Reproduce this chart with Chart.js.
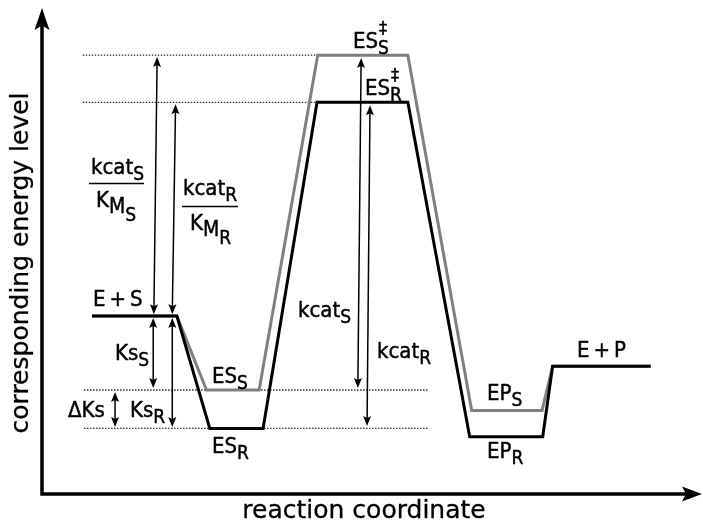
<!DOCTYPE html>
<html><head><meta charset="utf-8">
<script src="https://cdn.jsdelivr.net/npm/chart.js@4.4.1/dist/chart.umd.min.js"></script>
<style>html,body{margin:0;padding:0;background:#fff;}#wrap{width:703px;height:521px;}</style>
</head><body><div id="wrap"><canvas id="c" width="703" height="521"></canvas></div>
<script>
// reaction coordinate (0-100) and energy level (0-100) of each path vertex
const coordS  = [7.6, 20.5, 25.0, 33.0, 41.9, 55.6, 65.3, 76.0, 77.6, 92.5];
const energyS = [36.6, 36.6, 21.4, 21.4, 90.3, 90.3, 17.2, 17.2, 26.3, 26.3];
const coordR  = [7.6, 20.5, 25.5, 33.6, 41.8, 55.6, 65.0, 76.1, 77.6, 92.5];
const energyR = [36.6, 36.6, 13.5, 13.5, 80.6, 80.6, 11.8, 11.8, 26.3, 26.3];
// dotted reference levels
const refLevels = [90.3, 80.6, 21.4, 13.5];
const refStart  = [6.2, 6.2, 6.4, 6.4];
const refEnd    = [41.9, 41.8, 58.7, 58.7];
// double-headed arrows: top x, top energy, bottom x, bottom energy
const arrowTopX = [17.5, 20.3, 16.9, 19.8, 11.1, 48.5, 49.85];
const arrowTopY = [89.9, 80.2, 36.2, 36.2, 21.0, 89.7, 80.0];
const arrowBotX = [17.0, 19.8, 16.9, 19.8, 11.1, 48.0, 49.4];
const arrowBotY = [37.0, 37.0, 21.8, 13.8, 13.8, 21.8, 14.0];

const FONT = '"DejaVu Sans Condensed", "DejaVu Sans", sans-serif';
const TFONT = '"DejaVu Sans", sans-serif';

// text labels: anchor (left, baseline) in data units
const labels = [
  {x: 7.75, y: 38.68, parts: [{t: 'E\u2009+\u2009S'}]},
  {x: 11.09, y: 27.57, parts: [{t: 'Ks'}, {t: 'S', l: 1}]},
  {x: 3.95, y: 15.84, parts: [{t: '\u0394Ks'}]},
  {x: 13.37, y: 15.84, parts: [{t: 'Ks'}, {t: 'R', l: 1}]},
  {x: 25.84, y: 22.84, parts: [{t: 'ES'}, {t: 'S', l: 1}]},
  {x: 25.84, y: 8.44, parts: [{t: 'ES'}, {t: 'R', l: 1}]},
  {x: 47.26, y: 91.77, parts: [{t: 'ES'}, {t: '\u2021', sup: 1}, {t: 'S', l: 1}]},
  {x: 49.09, y: 82.10, parts: [{t: 'ES'}, {t: '\u2021', sup: 1}, {t: 'R', l: 1}]},
  {x: 38.91, y: 36.42, parts: [{t: 'kcat'}, {t: 'S', l: 1}]},
  {x: 50.91, y: 27.98, parts: [{t: 'kcat'}, {t: 'R', l: 1}]},
  {x: 67.63, y: 19.34, parts: [{t: 'EP'}, {t: 'S', l: 1}]},
  {x: 67.63, y: 7.41, parts: [{t: 'EP'}, {t: 'R', l: 1}]},
  {x: 81.31, y: 28.19, parts: [{t: 'E\u2009+\u2009P'}]}
];
const fractions = [
  {nx: 7.45, ny: 65.84, num: [{t: 'kcat'}, {t: 'S', l: 1}], x1: 7.14, x2: 15.5, ly: 63.99,
   dx: 8.21, dy: 59.05, den: [{t: 'K'}, {t: 'M', l: 1, s: 21}, {t: 'S', l: 2, s: 19}]},
  {nx: 21.43, ny: 61.52, num: [{t: 'kcat'}, {t: 'R', l: 1}], x1: 21.28, x2: 29.79, ly: 59.26,
   dx: 22.49, dy: 54.32, den: [{t: 'K'}, {t: 'M', l: 1, s: 21}, {t: 'R', l: 2, s: 19}]}
];

function put(ctx, t, x, y) {
  ctx.strokeText(t, x, y);
  ctx.fillText(t, x, y);
}

function rich(ctx, x, y, parts) {
  let cx = x;
  ctx.lineWidth = 0.45;
  ctx.lineJoin = 'round';
  for (const p of parts) {
    const lv = p.l || 0;
    if (p.sup) {
      ctx.font = '18px ' + FONT;
      put(ctx, p.t, cx + 1, y - 14);
      continue;
    }
    const size = p.s || [22, 19, 17][lv];
    const dy = [0, 6, 14][lv];
    ctx.font = size + 'px ' + FONT;
    put(ctx, p.t, cx, y + dy);
    cx += ctx.measureText(p.t).width;
  }
}

function head(ctx, tx, ty, ang, len, hw) {
  ctx.save();
  ctx.translate(tx, ty);
  ctx.rotate(ang);
  ctx.beginPath();
  ctx.moveTo(0, 0);
  ctx.lineTo(-len, -hw);
  ctx.lineTo(-len * 0.8, 0);
  ctx.lineTo(-len, hw);
  ctx.closePath();
  ctx.fill();
  ctx.restore();
}

const annot = {
  id: 'annot',
  beforeDatasetsDraw(chart) {
    const {ctx, chartArea: a} = chart;
    ctx.save();
    ctx.fillStyle = '#000';
    ctx.strokeStyle = '#000';
    ctx.lineWidth = 3.5;
    ctx.beginPath();
    ctx.moveTo(a.left, 22);
    ctx.lineTo(a.left, a.bottom);
    ctx.lineTo(a.right - 12, a.bottom);
    ctx.stroke();
    head(ctx, a.left, a.top, -Math.PI / 2, 22, 7.5);
    head(ctx, a.right + 2, a.bottom, 0, 20, 7.5);
    ctx.restore();
  },
  afterDatasetsDraw(chart) {
    const {ctx, scales: {x, y}} = chart;
    ctx.save();
    ctx.fillStyle = '#000';
    ctx.strokeStyle = '#000';
    // arrows
    for (let i = 0; i < arrowTopX.length; i++) {
      const x1 = x.getPixelForValue(arrowTopX[i]), y1 = y.getPixelForValue(arrowTopY[i]);
      const x2 = x.getPixelForValue(arrowBotX[i]), y2 = y.getPixelForValue(arrowBotY[i]);
      const ang = Math.atan2(y2 - y1, x2 - x1);
      ctx.lineWidth = 1.5;
      ctx.beginPath();
      ctx.moveTo(x1 + Math.cos(ang) * 6, y1 + Math.sin(ang) * 6);
      ctx.lineTo(x2 - Math.cos(ang) * 6, y2 - Math.sin(ang) * 6);
      ctx.stroke();
      head(ctx, x2, y2, ang, 10, 4);
      head(ctx, x1, y1, ang + Math.PI, 10, 4);
    }
    ctx.textBaseline = 'alphabetic';
    ctx.textAlign = 'left';
    for (const L of labels) {
      rich(ctx, x.getPixelForValue(L.x), y.getPixelForValue(L.y), L.parts);
    }
    for (const F of fractions) {
      rich(ctx, x.getPixelForValue(F.nx), y.getPixelForValue(F.ny), F.num);
      rich(ctx, x.getPixelForValue(F.dx), y.getPixelForValue(F.dy), F.den);
      ctx.lineWidth = 1.5;
      ctx.beginPath();
      const ly = Math.round(y.getPixelForValue(F.ly)) + 0.5;
      ctx.moveTo(x.getPixelForValue(F.x1), ly);
      ctx.lineTo(x.getPixelForValue(F.x2), ly);
      ctx.stroke();
    }
    // axis titles
    ctx.font = '25px ' + TFONT;
    ctx.textAlign = 'center';
    ctx.lineWidth = 0.3;
    put(ctx, 'reaction coordinate', 364, 518);
    ctx.translate(28, 263);
    ctx.rotate(-Math.PI / 2);
    put(ctx, 'corresponding energy level', 0, 0);
    ctx.restore();
  }
};

const pts = (xs, ys) => xs.map((v, i) => ({x: v, y: ys[i]}));
const refSets = refLevels.map((lv, i) => ({
  data: [{x: refStart[i], y: lv}, {x: refEnd[i], y: lv}],
  showLine: true, borderColor: '#222', borderWidth: 1.3, borderDash: [1.4, 1.6],
  pointRadius: 0, fill: false
}));

new Chart(document.getElementById('c'), {
  type: 'scatter',
  data: {
    datasets: [
      {label: 'R', data: pts(coordR, energyR), showLine: true, borderColor: '#000', borderWidth: 3,
       pointRadius: 0, fill: false, tension: 0, borderJoinStyle: 'miter'},
      {label: 'S', data: pts(coordS, energyS), showLine: true, borderColor: '#808080', borderWidth: 3,
       pointRadius: 0, fill: false, tension: 0, borderJoinStyle: 'miter'},
      ...refSets
    ]
  },
  options: {
    responsive: false,
    animation: false,
    events: [],
    layout: {padding: {left: 42, top: 8, right: 3, bottom: 27}},
    scales: {
      x: {type: 'linear', min: 0, max: 100, display: false},
      y: {type: 'linear', min: 0, max: 100, display: false}
    },
    plugins: {legend: {display: false}, tooltip: {enabled: false}}
  },
  plugins: [annot]
});
</script></body></html>
